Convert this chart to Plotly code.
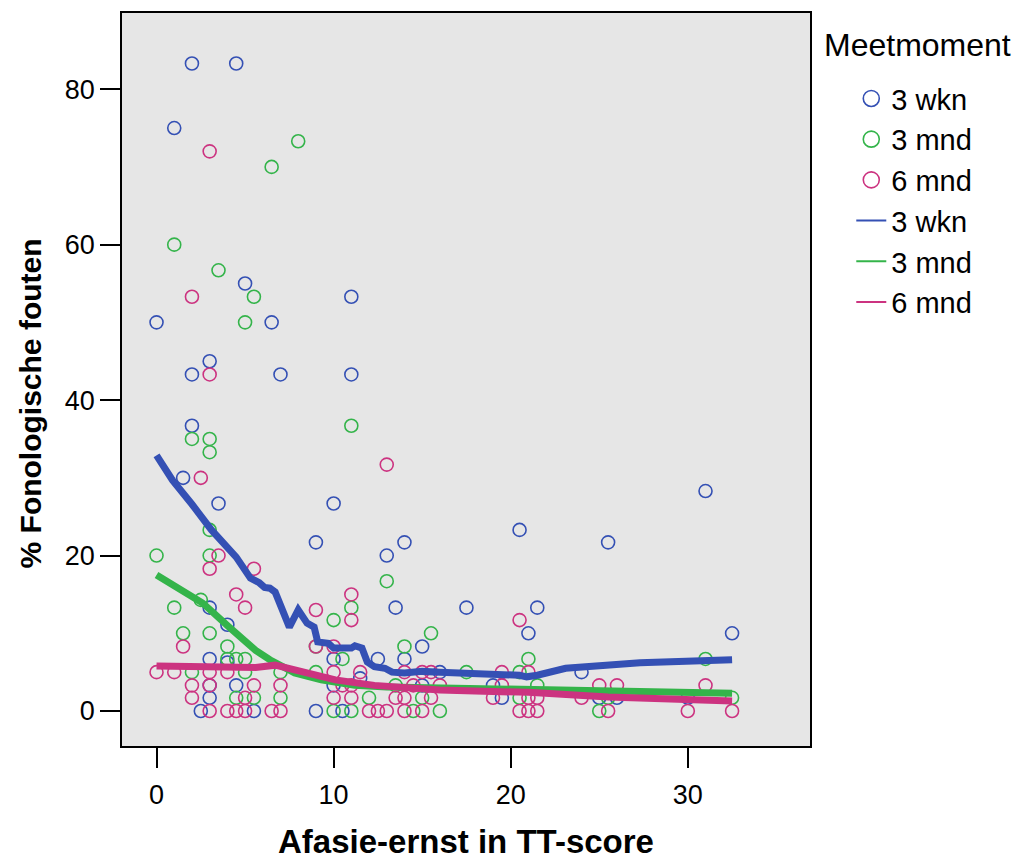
import plotly.graph_objects as go

# ---- data ----
wkn3_x = [2, 4.5, 1, 0, 5, 11, 6.5, 3, 2, 7, 11, 2, 1.5, 3.5, 10, 9, 14, 13, 20.5, 25.5, 31, 32.5,
          17.5, 21.5, 21, 24, 13.5, 3, 4, 3, 4, 4.5, 3, 3, 2.5, 5.5, 9, 10, 10, 10.5, 12.5, 14, 15,
          16, 11.5, 15, 19, 19.5, 25, 26, 30]
wkn3_y = [83.3, 83.3, 75, 50, 55, 53.3, 50, 45, 43.3, 43.3, 43.3, 36.7, 30, 26.7, 26.7, 21.7, 21.7,
          20, 23.3, 21.7, 28.3, 10, 13.3, 13.3, 10, 5, 13.3, 13.3, 11.1, 6.7, 6.25, 3.3, 3.3, 1.7,
          0, 0, 0, 6.7, 3.3, 0, 6.7, 6.7, 8.3, 5, 4.2, 3.3, 3.3, 1.7, 1.7, 1.7, 1.7]

mnd3_x = [1, 3.5, 5.5, 5, 8, 6.5, 2, 3, 3, 11, 3, 0, 3, 13, 11, 10, 15.5, 2.5, 1, 1.5, 3, 4, 4,
          4.5, 5, 9, 14, 10.5, 21, 31, 2, 5, 7, 9, 17.5, 20.5, 13.5, 21.5, 4.5, 5.5, 7, 12, 15,
          20.5, 25.5, 32.5, 10, 11, 14.5, 16, 25]
mnd3_y = [60, 56.7, 53.3, 50, 73.3, 70, 35, 35, 33.3, 36.7, 23.3, 20, 20, 16.7, 13.3, 11.7, 10,
          14.3, 13.3, 10, 10, 8.3, 6.7, 6.7, 6.7, 8.3, 8.3, 6.7, 6.7, 6.7, 5, 5, 5, 5, 5, 5, 3.3,
          3.3, 1.7, 1.7, 1.7, 1.7, 1.7, 1.7, 1.7, 1.7, 0, 0, 0, 0, 0]

mnd6_x = [3, 2, 3, 13, 2.5, 3.5, 3, 5.5, 4.5, 5, 9, 11, 11, 20.5, 1.5, 9, 10, 0, 1, 3, 4, 10,
          11.5, 14, 15, 15.5, 19.5, 21, 2, 3, 5.5, 7, 10.5, 11, 14.5, 16, 19.5, 25, 26, 31, 2, 5,
          10, 11, 13.5, 14, 15.5, 19, 21, 21.5, 24, 3, 4, 4.5, 5, 6.5, 7, 12, 12.5, 13, 14, 15,
          20.5, 21, 21.5, 25.5, 30, 32.5]
mnd6_y = [72, 53.3, 43.3, 31.7, 30, 20, 18.3, 18.3, 15, 13.3, 13, 15, 11.7, 11.7, 8.3, 8.3, 8.3,
          5, 5, 5, 5, 5, 5, 5, 5, 5, 5, 5, 3.3, 3.3, 3.3, 3.3, 3.3, 3.3, 3.3, 3.3, 3.3, 3.3, 3.3,
          3.3, 1.7, 1.7, 1.7, 1.7, 1.7, 1.7, 1.7, 1.7, 1.7, 1.7, 1.7, 0, 0, 0, 0, 0, 0, 0, 0, 0,
          0, 0, 0, 0, 0, 0, 0, 0]

# loess fit lines
fit_wkn3_x = [0, 0.9, 2.0, 3.1, 4.5, 5.3, 5.8, 6.1, 6.4, 6.7, 7.5, 8.0, 8.5, 8.9, 9.1, 9.7, 10.0,
              11.0, 11.2, 11.6, 11.9, 12.3, 12.9, 13.3, 14.0, 15.0, 16.0, 18.0, 20.5, 20.9, 21.5,
              23.1, 25.5, 27.3, 32.5]
fit_wkn3_y = [32.9, 29.7, 26.6, 23.3, 19.8, 17.1, 16.5, 15.9, 15.8, 15.3, 10.8, 13.0, 11.3, 10.8,
              8.9, 8.7, 8.1, 8.1, 8.4, 8.1, 6.3, 5.7, 5.5, 5.0, 4.9, 5.1, 5.0, 4.9, 4.6, 4.4, 4.6,
              5.5, 5.9, 6.2, 6.6]
fit_mnd3_x = [0, 2.6, 4.1, 5.6, 6.4, 6.9, 7.8, 9.3, 11.2, 13, 16, 20, 25, 32.5]
fit_mnd3_y = [17.5, 13.9, 10.8, 7.8, 6.6, 5.9, 4.9, 4.0, 3.3, 3.1, 3.0, 2.8, 2.6, 2.3]
fit_mnd6_x = [0, 3.7, 5.6, 6.7, 8.2, 10.1, 12.3, 13.9, 16, 21, 25.5, 32.5]
fit_mnd6_y = [5.8, 5.7, 5.6, 5.9, 5.0, 4.0, 3.3, 3.0, 2.7, 2.4, 1.8, 1.3]

groups = ["3 wkn", "3 mnd", "6 mnd"]
colors = ["#3450B4", "#34B44A", "#CC3380"]
x_ticks = [0, 10, 20, 30]
y_ticks = [0, 20, 40, 60, 80]

FONT = "Arial, Liberation Sans, sans-serif"

fig = go.Figure()

pts = [(wkn3_x, wkn3_y), (mnd3_x, mnd3_y), (mnd6_x, mnd6_y)]
fits = [(fit_wkn3_x, fit_wkn3_y), (fit_mnd3_x, fit_mnd3_y), (fit_mnd6_x, fit_mnd6_y)]

for (px, py), c, g in zip(pts, colors, groups):
    fig.add_trace(go.Scatter(x=px, y=py, mode="markers", showlegend=False, name=g,
                             marker=dict(symbol="circle-open", size=13, color=c,
                                         line=dict(width=1.6, color=c))))
for (fx, fy), c, g in zip(fits, colors, groups):
    fig.add_trace(go.Scatter(x=fx, y=fy, mode="lines", line=dict(color=c, width=7),
                             showlegend=False, hoverinfo="skip", name=g))
# legend entries
for c, g in zip(colors, groups):
    fig.add_trace(go.Scatter(x=[None], y=[None], mode="markers", name=g,
                             marker=dict(symbol="circle-open", size=16, color=c,
                                         line=dict(width=1.6, color=c))))
for c, g in zip(colors, groups):
    fig.add_trace(go.Scatter(x=[None], y=[None], mode="lines", name=g,
                             line=dict(color=c, width=2, shape="spline")))

fig.update_layout(
    width=1022, height=859,
    margin=dict(l=122, r=212, t=13, b=113),
    paper_bgcolor="white", plot_bgcolor="#E6E6E6",
    font=dict(family=FONT, color="black", size=26),
    showlegend=True,
    legend=dict(x=1.06, y=0.918, xanchor="left", yanchor="top",
                font=dict(size=29, family=FONT), bgcolor="rgba(0,0,0,0)",
                traceorder="normal", tracegroupgap=0),
    xaxis=dict(range=[-1.95, 36.9], tickvals=x_ticks, ticks="outside", ticklen=20,
               tickwidth=1.5, tickcolor="black", showline=True, linecolor="black",
               linewidth=1.5, mirror=True, showgrid=False, zeroline=False,
               tickfont=dict(size=27), ticklabelstandoff=4),
    yaxis=dict(range=[-4.5, 89.8], tickvals=y_ticks, ticks="outside", ticklen=20,
               tickwidth=1.5, tickcolor="black", showline=True, linecolor="black",
               linewidth=1.5, mirror=True, showgrid=False, zeroline=False,
               tickfont=dict(size=27)),
    annotations=[
        dict(text="<b>Afasie-ernst in TT-score</b>", xref="paper", yref="paper",
             x=0.5, y=-0.13, xanchor="center", yanchor="middle", showarrow=False,
             font=dict(size=33, family=FONT)),
        dict(text="<b>% Fonologische fouten</b>", xref="paper", yref="paper",
             x=-0.133, y=0.468, xanchor="center", yanchor="middle", showarrow=False,
             textangle=-90, font=dict(size=30, family=FONT)),
        dict(text="Meetmoment", xref="paper", yref="paper", x=1.0174, y=0.9563,
             xanchor="left", yanchor="middle", showarrow=False,
             font=dict(size=32, family=FONT)),
    ],
)

fig.write_html("out.html")
